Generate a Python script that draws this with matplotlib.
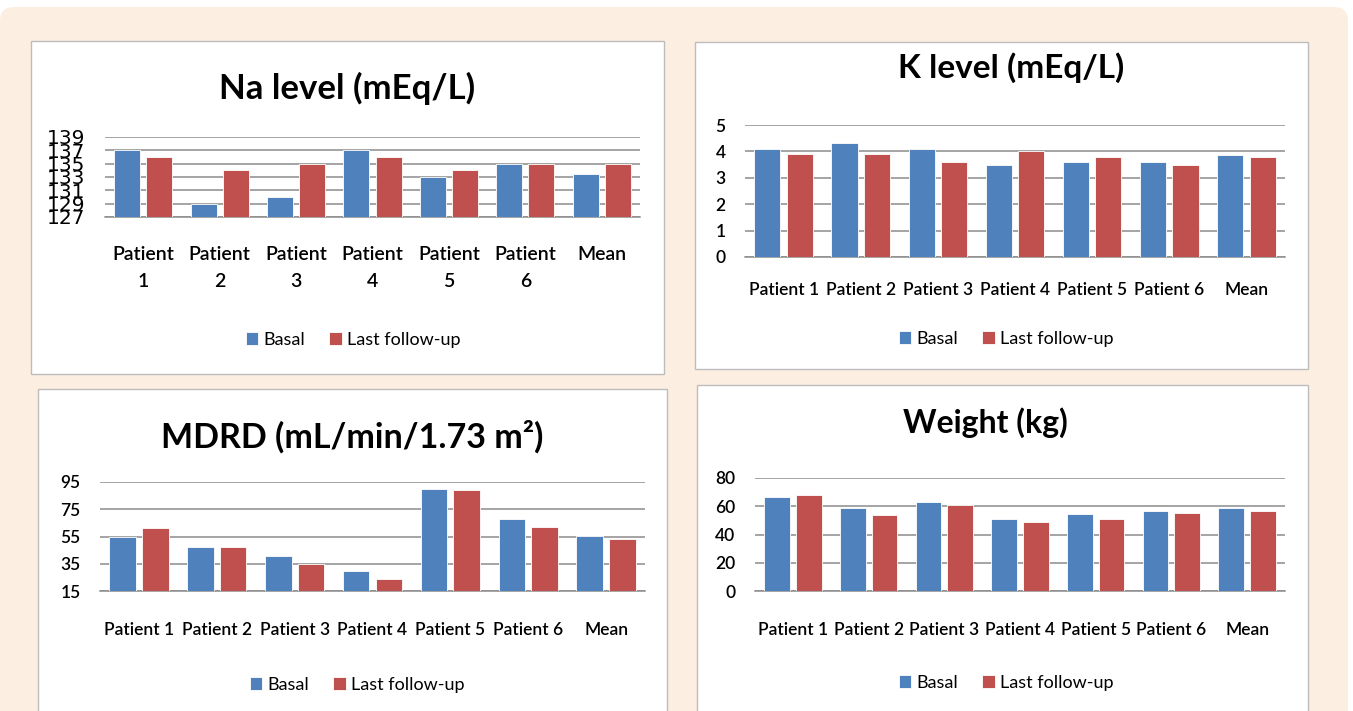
import numpy as np
import matplotlib
matplotlib.use("Agg")
import matplotlib.pyplot as plt
from matplotlib.patches import FancyBboxPatch, Rectangle

plt.rcParams['font.family'] = ['Lato', 'DejaVu Sans']

# data
categories = ["Patient 1", "Patient 2", "Patient 3", "Patient 4", "Patient 5", "Patient 6", "Mean"]
series_names = ["Basal", "Last follow-up"]

na_basal = [137, 129, 130, 137, 133, 135, 133.5]
na_last = [136, 134, 135, 136, 134, 135, 135]

k_basal = [4.1, 4.3, 4.1, 3.5, 3.6, 3.6, 3.87]
k_last = [3.9, 3.9, 3.6, 4.0, 3.8, 3.5, 3.8]

mdrd_basal = [55, 47, 41, 30, 90, 68, 55.5]
mdrd_last = [61, 47, 34.5, 24, 89, 62, 53]

weight_basal = [66.5, 58.5, 62.8, 51, 54.5, 56.5, 58.5]
weight_last = [67.7, 54, 61, 49, 51, 55.5, 56.5]

BLUE = "#4f81bd"
RED = "#c0504d"
GRID = "#8c8c8c"
W, H = 1353, 711

fig = plt.figure(figsize=(W / 100, H / 100), dpi=100, facecolor="white")

# background layer in pixel coords
bg = fig.add_axes([0, 0, 1, 1])
bg.set_xlim(0, W)
bg.set_ylim(H, 0)
bg.axis("off")
bg.add_patch(FancyBboxPatch((0, 7), 1348, 740, boxstyle="round,pad=0,rounding_size=14",
                            facecolor="#fdeee2", edgecolor="none"))
for (x0, y0, x1, y1) in [(31, 41, 664, 374), (695, 42, 1308, 369),
                         (38, 389, 667, 720), (697, 385, 1308, 720)]:
    bg.add_patch(Rectangle((x0, y0), x1 - x0, y1 - y0, facecolor="white",
                           edgecolor="#bdbdbd", lw=1))


def px_axes(x0, y0, x1, y1):
    return fig.add_axes([x0 / W, 1 - y1 / H, (x1 - x0) / W, (y1 - y0) / H])


def panel(rect, basal, last, ylim, yticks, title, title_xy, title_size, legend_xy,
          labels, xpad, xsize=12.5, ylabel_font=None):
    ax = px_axes(*rect)
    ax.set_facecolor("none")
    x = np.arange(len(categories))
    ax.bar(x - 0.21, np.array(basal) - ylim[0], 0.34, bottom=ylim[0], color=BLUE,
           edgecolor="white", lw=0.6, zorder=3, label=series_names[0])
    ax.bar(x + 0.21, np.array(last) - ylim[0], 0.34, bottom=ylim[0], color=RED,
           edgecolor="white", lw=0.6, zorder=3, label=series_names[1])
    ax.set_xlim(-0.5, len(categories) - 0.5)
    ax.set_ylim(*ylim)
    ax.set_yticks(yticks)
    ax.yaxis.grid(True, color=GRID, lw=1.1, zorder=0)
    for s in ["left", "right", "top"]:
        ax.spines[s].set_visible(False)
    ax.spines["bottom"].set_color(GRID)
    ax.spines["bottom"].set_linewidth(1.1)
    ax.set_xticks(x, labels)
    ax.tick_params(length=0, labelsize=12.5, colors="black")
    ax.tick_params(axis="x", pad=xpad, labelsize=xsize)
    ax.tick_params(axis="y", pad=14)
    for t in ax.get_xticklabels() + ax.get_yticklabels():
        t.set_fontweight("semibold")
        t.set_linespacing(1.7)
    if ylabel_font:
        for t in ax.get_yticklabels():
            t.set_fontfamily(ylabel_font)
            t.set_fontweight("normal")
            t.set_fontsize(14.5)
    fig.text(title_xy[0] / W, 1 - title_xy[1] / H, title, ha="center", va="center",
             fontsize=title_size, fontweight="bold")
    ax.legend(loc="center", bbox_to_anchor=(legend_xy[0] / W, 1 - legend_xy[1] / H),
              bbox_transform=fig.transFigure, ncol=2, frameon=False,
              fontsize=13, handlelength=0.7, handleheight=0.7, handletextpad=0.3,
              columnspacing=1.3)
    return ax


na_labels = [c.replace(" ", "\n") if c != "Mean" else "Mean\n " for c in categories]
panel((105, 137, 640, 217), na_basal, na_last, (127, 139), np.arange(127, 140, 2),
      "Na level (mEq/L)", (347, 88), 25, (353, 340), na_labels, xpad=21, xsize=14,
      ylabel_font=["Liberation Sans Narrow", "DejaVu Sans"])
panel((745, 125, 1285, 257), k_basal, k_last, (0, 5), np.arange(0, 6, 1),
      "K level (mEq/L)", (1011, 68), 24, (1006, 339), categories, xpad=18)
panel((100, 482, 645, 591), mdrd_basal, mdrd_last, (15, 95), np.arange(15, 96, 20),
      "MDRD (mL/min/1.73 m²)", (352, 437), 24.5, (357, 685), categories, xpad=22)
panel((755, 478, 1285, 591), weight_basal, weight_last, (0, 80), np.arange(0, 81, 20),
      "Weight (kg)", (985, 423), 23, (1006, 683), categories, xpad=22)

fig.savefig("out.png", dpi=100, facecolor="white")
